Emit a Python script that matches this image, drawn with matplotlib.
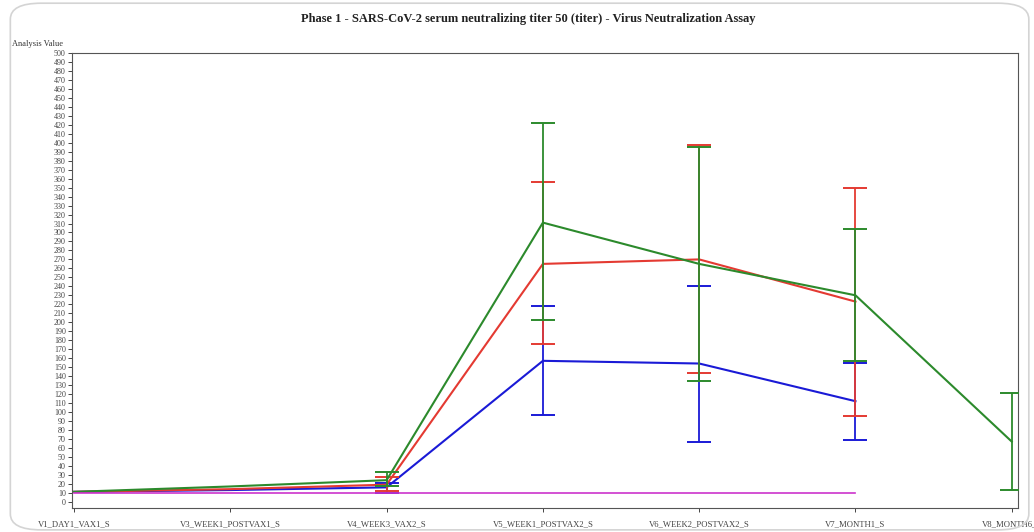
import numpy as np
import matplotlib
matplotlib.use("Agg")
import matplotlib.pyplot as plt
from matplotlib.patches import FancyBboxPatch

categories = ["V1_DAY1_VAX1_S", "V3_WEEK1_POSTVAX1_S", "V4_WEEK3_VAX2_S",
              "V5_WEEK1_POSTVAX2_S", "V6_WEEK2_POSTVAX2_S", "V7_MONTH1_S", "V8_MONTH6_S"]
nan = np.nan
blue_mean = [11, 13, 16, 157, 154, 112, nan]
blue_lo = [nan, nan, 10, 97, 66, 69, nan]
blue_hi = [nan, nan, 21, 218, 240, 155, nan]
red_mean = [11, 14, 19, 265, 270, 223, nan]
red_lo = [nan, nan, 12, 176, 143, 96, nan]
red_hi = [nan, nan, 27, 356, 397, 350, nan]
green_mean = [11, 17, 24, 311, 265, 230, 67]
green_lo = [nan, nan, 17, 203, 135, 157, 13]
green_hi = [nan, nan, 33, 422, 395, 304, 121]
magenta_vals = [10, 10, 10, 10, 10, 10, nan]
yticks = list(range(0, 501, 10))

plt.rcParams['font.family'] = ['Liberation Serif', 'DejaVu Serif']

fig = plt.figure(figsize=(10.34, 5.32), dpi=100)
fig.patch.set_facecolor('white')
card = FancyBboxPatch((0.010, 0.004), 0.985, 0.990, boxstyle="round,pad=0,rounding_size=0.03",
                      transform=fig.transFigure, facecolor='none', edgecolor='#d4d4d4', lw=1.2)
fig.patches.append(card)

ax = fig.add_axes([72/1034, 1 - 508/532, (1018 - 72)/1034, (508 - 53)/532])
x = np.arange(len(categories))

series = [
    (blue_mean, blue_lo, blue_hi, '#1a1ad6'),
    (red_mean, red_lo, red_hi, '#e43a32'),
    (green_mean, green_lo, green_hi, '#2c8a2c'),
]
for i, (m, lo, hi, c) in enumerate(series):
    m = np.array(m, float); lo = np.array(lo, float); hi = np.array(hi, float)
    ax.plot(x, m, color=c, lw=1.5, zorder=2 + i)
    ok = ~np.isnan(lo)
    ax.errorbar(x[ok], m[ok], yerr=[m[ok] - lo[ok], hi[ok] - m[ok]], fmt='none',
                ecolor=c, elinewidth=1.3, capsize=8.5, capthick=1.4, zorder=2 + i)

ax.plot(x, magenta_vals, color='#cc33cc', lw=1.2, zorder=6)

ax.set_xlim(-0.013, 6.04)
ax.set_ylim(-7, 500)
ax.set_yticks(yticks)
ax.set_yticklabels([str(v) for v in yticks], fontsize=5.8, color='#333333')
ax.set_xticks(x)
ax.set_xticklabels(categories, fontsize=6.2, color='#333333')
ax.tick_params(axis='y', length=3, width=0.7, pad=1.5, colors='#444444')
ax.tick_params(axis='x', length=3, width=0.7, pad=6, colors='#444444')
for s in ax.spines.values():
    s.set_color('#555555')
    s.set_linewidth(0.8)

fig.text(12/1034, 1 - 44/532, "Analysis Value", fontsize=6, color='#333333', va='center', ha='left')
fig.text(528/1034, 1 - 19/532, "Phase 1 - SARS-CoV-2 serum neutralizing titer 50 (titer) - Virus Neutralization Assay",
         fontsize=9, fontweight='bold', ha='center', va='center', color='#222222')

fig.savefig("out.png", dpi=100)
